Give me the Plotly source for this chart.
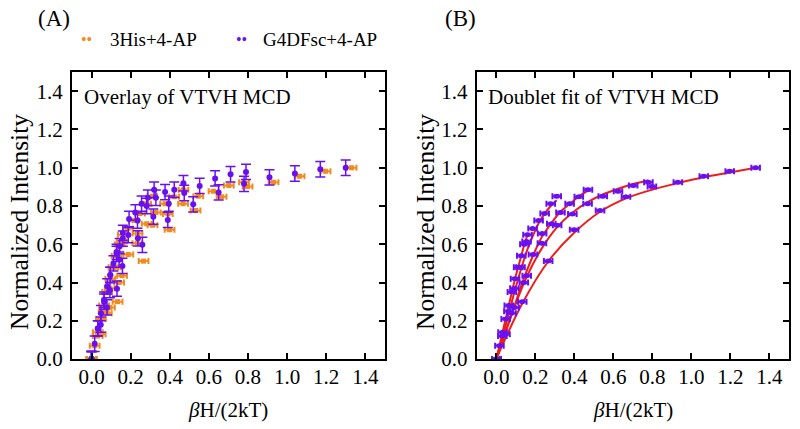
import plotly.graph_objects as go

# ---------------- data ----------------
# 3His+4-AP (five isotherms)
his_x1 = [0, 0.133, 0.266, 0.399, 0.532, 0.665, 0.798, 0.931, 1.064, 1.197, 1.33]
his_y1 = [0, 0.30, 0.512, 0.676, 0.776, 0.848, 0.902, 0.924, 0.956, 0.982, 1.0]
his_x2 = [0, 0.078, 0.156, 0.234, 0.312, 0.39, 0.468, 0.546, 0.624, 0.702, 0.78]
his_y2 = [0, 0.24, 0.436, 0.605, 0.699, 0.758, 0.812, 0.851, 0.877, 0.907, 0.924]
his_x3 = [0, 0.047, 0.094, 0.141, 0.188, 0.235, 0.282, 0.329, 0.376, 0.423, 0.47]
his_y3 = [0, 0.13, 0.27, 0.40, 0.546, 0.656, 0.707, 0.766, 0.812, 0.848, 0.885]
his_x4 = [0, 0.031, 0.062, 0.093, 0.124, 0.155, 0.186, 0.217, 0.248, 0.279, 0.31]
his_y4 = [0, 0.12, 0.25, 0.37, 0.48, 0.614, 0.682, 0.724, 0.761, 0.812, 0.851]
his_x5 = [0, 0.016, 0.032, 0.048, 0.064, 0.08, 0.096, 0.112, 0.128, 0.144, 0.16]
his_y5 = [0, 0.07, 0.14, 0.21, 0.28, 0.35, 0.42, 0.48, 0.54, 0.60, 0.65]

# G4DFsc+4-AP (five isotherms)
g4_x1 = [0, 0.13, 0.26, 0.39, 0.52, 0.65, 0.78, 0.91, 1.04, 1.17, 1.30]
g4_y1 = [0, 0.368, 0.597, 0.727, 0.809, 0.871, 0.916, 0.95, 0.97, 0.992, 1.0]
g4_x2 = [0, 0.079, 0.158, 0.237, 0.316, 0.395, 0.474, 0.553, 0.632, 0.711, 0.79]
g4_y2 = [0, 0.27, 0.487, 0.631, 0.744, 0.812, 0.868, 0.905, 0.944, 0.966, 0.978]
g4_x3 = [0, 0.047, 0.094, 0.141, 0.188, 0.235, 0.282, 0.329, 0.376, 0.423, 0.47]
g4_y3 = [0, 0.18, 0.36, 0.52, 0.648, 0.724, 0.80, 0.843, 0.873, 0.885, 0.919]
g4_x4 = [0, 0.032, 0.064, 0.096, 0.128, 0.16, 0.192, 0.224, 0.256, 0.288, 0.32]
g4_y4 = [0, 0.16, 0.30, 0.44, 0.56, 0.66, 0.732, 0.766, 0.812, 0.843, 0.885]
g4_x5 = [0, 0.016, 0.032, 0.048, 0.064, 0.08, 0.096, 0.112, 0.128, 0.144, 0.16]
g4_y5 = [0, 0.08, 0.16, 0.24, 0.31, 0.38, 0.44, 0.50, 0.55, 0.59, 0.63]

his_xerr = 0.025
g4_yerr = 0.04

# Doublet fit curves (panel B), evaluated at the isotherm field points
fit_y1 = [0, 0.29, 0.51, 0.66, 0.77, 0.84, 0.885, 0.92, 0.95, 0.975, 1.0]
fit_y2 = [0, 0.23, 0.43, 0.58, 0.69, 0.765, 0.82, 0.86, 0.89, 0.915, 0.935]
fit_y3 = [0, 0.14, 0.28, 0.42, 0.54, 0.64, 0.71, 0.77, 0.81, 0.85, 0.88]
fit_y4 = [0, 0.11, 0.23, 0.35, 0.46, 0.56, 0.64, 0.71, 0.76, 0.80, 0.83]
fit_y5 = [0, 0.07, 0.14, 0.21, 0.28, 0.35, 0.42, 0.48, 0.54, 0.60, 0.65]

tick_vals = [0.0, 0.2, 0.4, 0.6, 0.8, 1.0, 1.2, 1.4]
tick_text = ["0.0", "0.2", "0.4", "0.6", "0.8", "1.0", "1.2", "1.4"]

ORANGE = "#f28a1c"
PURPLE = "#6a10f0"
RED = "#ee1c1c"
FONT = "Liberation Serif, Times New Roman, Times, DejaVu Serif, serif"

his_x = his_x1 + his_x2 + his_x3 + his_x4 + his_x5
his_y = his_y1 + his_y2 + his_y3 + his_y4 + his_y5
g4_x = g4_x1 + g4_x2 + g4_x3 + g4_x4 + g4_x5
g4_y = g4_y1 + g4_y2 + g4_y3 + g4_y4 + g4_y5

fig = go.Figure()

# ---- Panel A ----
fig.add_trace(go.Scatter(
    x=his_x, y=his_y, mode="markers", name="3His+4-AP",
    marker=dict(color=ORANGE, size=5, symbol="square"),
    error_x=dict(type="constant", value=his_xerr, color=ORANGE, thickness=2, width=3),
    xaxis="x", yaxis="y", showlegend=False))
fig.add_trace(go.Scatter(
    x=g4_x, y=g4_y, mode="markers", name="G4DFsc+4-AP",
    marker=dict(color=PURPLE, size=6),
    error_y=dict(type="constant", value=g4_yerr, color=PURPLE, thickness=1.5, width=5),
    xaxis="x", yaxis="y", showlegend=False))

# ---- Panel B ----
fits = [(his_x1, fit_y1), (his_x2, fit_y2), (his_x3, fit_y3), (his_x4, fit_y4), (his_x5, fit_y5)]
for fx, fy in fits:
    fig.add_trace(go.Scatter(
        x=fx, y=fy, mode="lines", line=dict(color=RED, width=2, shape="spline"),
        xaxis="x2", yaxis="y2", showlegend=False, hoverinfo="skip"))
fig.add_trace(go.Scatter(
    x=his_x, y=his_y, mode="markers", name="3His+4-AP data",
    marker=dict(color=PURPLE, size=5),
    error_x=dict(type="constant", value=0.022, color=PURPLE, thickness=2, width=3),
    error_y=dict(type="constant", value=0.006, color=PURPLE, thickness=1.5, width=3),
    xaxis="x2", yaxis="y2", showlegend=False))

axis_common = dict(
    range=[-0.1, 1.5], tickvals=tick_vals, ticktext=tick_text,
    showline=True, linecolor="black", linewidth=2, mirror="ticks",
    ticks="inside", ticklen=6, tickwidth=1.5, tickcolor="black",
    showgrid=False, zeroline=False, automargin=False,
    tickfont=dict(family=FONT, size=21, color="black"))
xaxis_common = dict(axis_common)
xaxis_common["ticklabelstandoff"] = -2
yaxis_common = dict(axis_common)
yaxis_common["range"] = [0, 1.5]
yaxis_common["ticklabelstandoff"] = 3

fig.update_layout(
    width=800, height=429,
    margin=dict(l=0, r=0, t=0, b=0),
    paper_bgcolor="white", plot_bgcolor="white",
    xaxis=dict(xaxis_common, domain=[0.09, 0.481], anchor="y"),
    yaxis=dict(yaxis_common, domain=[0.163, 0.832], anchor="x"),
    xaxis2=dict(xaxis_common, domain=[0.596, 0.986], anchor="y2"),
    yaxis2=dict(yaxis_common, domain=[0.163, 0.832], anchor="x2"),
    font=dict(family=FONT, color="black"),
)

ann = []
def add_text(x, y, text, size, xanchor="left", angle=0, color="black"):
    ann.append(dict(x=x / 800, y=1 - y / 429, xref="paper", yref="paper", text=text,
                    showarrow=False, xanchor=xanchor, yanchor="middle", textangle=angle,
                    font=dict(family=FONT, size=size, color=color)))

add_text(36, 19, "(A)", 23)
add_text(443, 19, "(B)", 23)
add_text(79, 39, "••", 16, color=ORANGE)
add_text(108, 39, "3His+4-AP", 19)
add_text(234, 39, "••", 16, color=PURPLE)
add_text(261, 39, "G4DFsc+4-AP", 19)
add_text(82, 97, "Overlay of VTVH MCD", 21)
add_text(486, 97, "Doublet fit of VTVH MCD", 21)
add_text(19, 222, "Normalized Intensity", 25.5, xanchor="center", angle=-90)
add_text(425, 222, "Normalized Intensity", 25.5, xanchor="center", angle=-90)
add_text(228, 410, "<i>β</i>H/(2kT)", 21, xanchor="center")
add_text(633, 410, "<i>β</i>H/(2kT)", 21, xanchor="center")
fig.update_layout(annotations=ann)

fig.write_html("out.html", config={"displayModeBar": False},
               post_script="document.body.style.margin='0';document.body.style.overflow='hidden';")
